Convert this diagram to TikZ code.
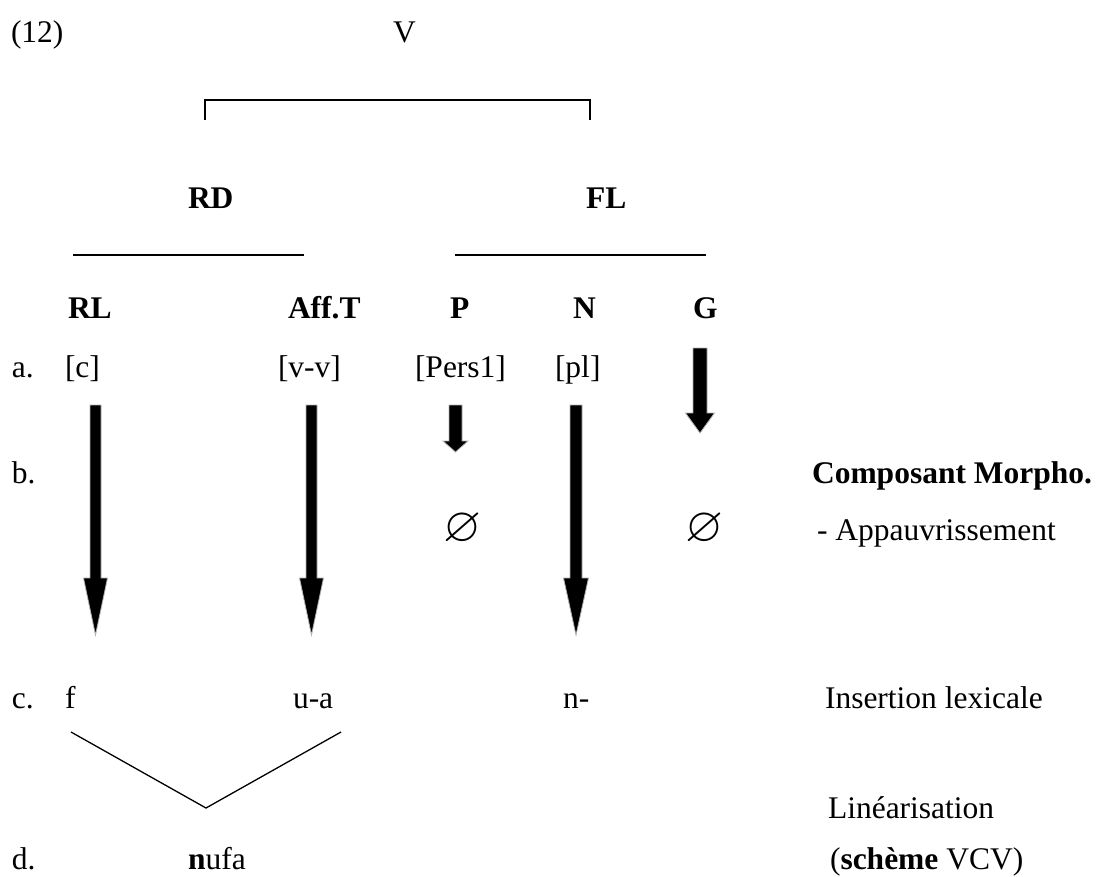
\documentclass[tikz,border=0pt]{standalone}
\usepackage{amssymb}
\usepackage{fontspec}
\setmainfont{Liberation Serif}
\newcommand\blkarrow[7]{%
  \path[blk] (#1-#5,#2) coordinate (#7) -- (#1+#5,#2) -- (#1+#5,#3) -- (#1+#6,#3) -- (#1,#4) -- (#1-#6,#3) -- (#1-#5,#3) -- cycle;}
\newcommand\bigempty{\scalebox{1.55}{$\varnothing$}}
\begin{document}
\begin{tikzpicture}[x=1pt,y=-1pt,
  txt/.style={anchor=base west, inner sep=0pt, outer sep=0pt, font=\fontsize{31.5}{38}\selectfont},
  bf/.style={txt, font=\fontsize{31.5}{38}\selectfont\bfseries},
  ln/.style={line width=1.5pt},
  vln/.style={line width=1.3pt},
  blk/.style={fill=black, draw=black!30, line width=0.8pt}]
\useasboundingbox (0,0) rectangle (1097,876);
% top
\node[txt] (ex) at (11,42) {(12)};
\node[txt] (V) at (393,42) {V};
\coordinate (br1) at (205,120);
\coordinate (br2) at (205,100);
\coordinate (br3) at (590,100);
\coordinate (br4) at (590,120);
\draw[ln] (br1) -- (br2) -- (br3) -- (br4);
% level 2
\node[bf] (RD) at (188,208) {RD};
\node[bf] (FL) at (586,208) {FL};
\coordinate (l1a) at (73,255);
\coordinate (l1b) at (304,255);
\coordinate (l2a) at (455,255);
\coordinate (l2b) at (706,255);
\draw[ln] (l1a) -- (l1b);
\draw[ln] (l2a) -- (l2b);
% level 3
\node[bf] (RL) at (68,318) {RL};
\node[bf] (AffT) at (288,318) {Aff.T};
\node[bf] (P) at (450,318) {P};
\node[bf] (N) at (573,318) {N};
\node[bf] (G) at (693,318) {G};
% row a
\node[txt] (la) at (12,377) {a.};
\node[txt] (c) at (65,377) {[c]};
\node[txt] (vv) at (278,377) {[v-v]};
\node[txt] (pers) at (415,377) {[Pers1]};
\node[txt] (pl) at (555,377) {[pl]};
% row b
\node[txt] (lb) at (12,483) {b.};
\node[bf] (CM) at (812,483) {Composant Morpho.};
\node[txt] (e1) at (443,541) {\bigempty};
\node[txt] (e2) at (685,541) {\bigempty};
\node[txt] (App) at (817,540) {- Appauvrissement};
% arrows
\blkarrow{95.5}{405}{578}{635}{5.5}{12}{arRL}
\blkarrow{311.5}{405}{578}{635}{5.5}{12}{arAff}
\blkarrow{576}{405}{578}{635}{6}{12.5}{arN}
\blkarrow{455.5}{405}{441}{452}{6.5}{12.5}{arP}
\blkarrow{700}{348}{413}{433}{7}{14.5}{arG}
% row c
\node[txt] (lc) at (12,708) {c.};
\node[txt] (f) at (65,708) {f};
\node[txt] (ua) at (293,708) {u-a};
\node[txt] (n) at (563,708) {n-};
\node[txt] (IL) at (825,708) {Insertion lexicale};
% linearisation
\coordinate (v1) at (71,732);
\coordinate (v2) at (206,808);
\coordinate (v3) at (341,732);
\draw[vln] (v1) -- (v2) -- (v3);
\node[txt] (Lin) at (828,818) {Linéarisation};
% row d
\node[txt] (ld) at (12,869) {d.};
\node[txt] (nufa) at (188,869) {\textbf{n}ufa};
\node[txt] (sch) at (830,869) {(\textbf{schème} VCV)};
\end{tikzpicture}
\end{document}
